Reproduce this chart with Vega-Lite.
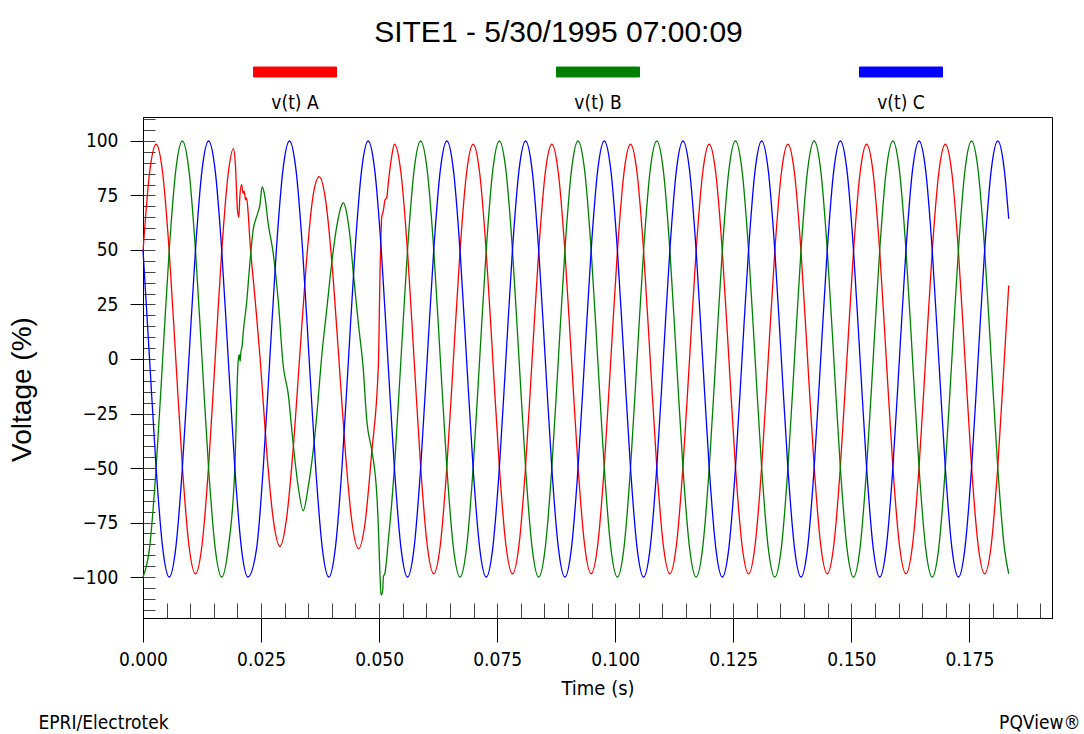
{
"$schema": "https://vega.github.io/schema/vega-lite/v6.json",
"width": 909, "height": 501,
"autosize": {"type": "none"},
"padding": {"left": 143, "top": 117, "right": 32, "bottom": 116},
"background": "white",
"title": {"text": "SITE1 - 5/30/1995 07:00:09", "font": "Liberation Sans", "fontSize": 30, "fontWeight": "normal", "color": "#000", "anchor": "middle", "frame": "group", "dx": -39, "offset": -18},
"data": {"values": [
{"t":0,"phase":"A","v":49.3},{"t":0.001389,"phase":"A","v":85.3},{"t":0.002778,"phase":"A","v":98.5},{"t":0.004167,"phase":"A","v":85.3},{"t":0.005556,"phase":"A","v":49.3},{"t":0.006944,"phase":"A","v":0},{"t":0.008333,"phase":"A","v":-49.3},{"t":0.009722,"phase":"A","v":-85.3},{"t":0.011111,"phase":"A","v":-98.5},{"t":0.0125,"phase":"A","v":-85.3},{"t":0.013889,"phase":"A","v":-49.3},{"t":0.015278,"phase":"A","v":0},{"t":0.016667,"phase":"A","v":49.3},{"t":0.018056,"phase":"A","v":85.3},
{"t":0.01915,"phase":"A","v":96.5},{"t":0.01955,"phase":"A","v":89.8},{"t":0.02002,"phase":"A","v":68},{"t":0.0203,"phase":"A","v":65},{"t":0.02051,"phase":"A","v":74.5},{"t":0.02087,"phase":"A","v":80},{"t":0.02121,"phase":"A","v":76},{"t":0.02142,"phase":"A","v":77},{"t":0.02172,"phase":"A","v":73},{"t":0.02193,"phase":"A","v":74},{"t":0.02227,"phase":"A","v":67},{"t":0.02263,"phase":"A","v":54.6},{"t":0.02369,"phase":"A","v":28.6},{"t":0.024815,"phase":"A","v":0},{"t":0.026204,"phase":"A","v":-42.5},{"t":0.027593,"phase":"A","v":-73.6},{"t":0.028981,"phase":"A","v":-86},{"t":0.03037,"phase":"A","v":-73.6},{"t":0.031759,"phase":"A","v":-42.5},{"t":0.033148,"phase":"A","v":0},{"t":0.034537,"phase":"A","v":42.5},{"t":0.035926,"phase":"A","v":73.6},{"t":0.037315,"phase":"A","v":83.6},{"t":0.038704,"phase":"A","v":72.4},{"t":0.040093,"phase":"A","v":41.8},{"t":0.041481,"phase":"A","v":0},{"t":0.04287,"phase":"A","v":-43},{"t":0.044259,"phase":"A","v":-75},{"t":0.045648,"phase":"A","v":-87},{"t":0.047037,"phase":"A","v":-75},{"t":0.048426,"phase":"A","v":-43},{"t":0.04984,"phase":"A","v":-3},{"t":0.0502,"phase":"A","v":40},{"t":0.05056,"phase":"A","v":65},{"t":0.0509,"phase":"A","v":68},{"t":0.05126,"phase":"A","v":73},{"t":0.05162,"phase":"A","v":74},{"t":0.05196,"phase":"A","v":81},{"t":0.05268,"phase":"A","v":93},
{"t":0.053241,"phase":"A","v":98.5},{"t":0.05463,"phase":"A","v":85.3},{"t":0.056019,"phase":"A","v":49.3},{"t":0.057407,"phase":"A","v":0},{"t":0.058796,"phase":"A","v":-49.3},{"t":0.060185,"phase":"A","v":-85.3},{"t":0.061574,"phase":"A","v":-98.5},{"t":0.062963,"phase":"A","v":-85.3},{"t":0.064352,"phase":"A","v":-49.3},{"t":0.065741,"phase":"A","v":0},{"t":0.06713,"phase":"A","v":49.3},{"t":0.068519,"phase":"A","v":85.3},
{"t":0.069907,"phase":"A","v":98.5},{"t":0.071296,"phase":"A","v":85.3},{"t":0.072685,"phase":"A","v":49.3},{"t":0.074074,"phase":"A","v":0},{"t":0.075463,"phase":"A","v":-49.3},{"t":0.076852,"phase":"A","v":-85.3},{"t":0.078241,"phase":"A","v":-98.5},{"t":0.07963,"phase":"A","v":-85.3},{"t":0.081019,"phase":"A","v":-49.3},{"t":0.082407,"phase":"A","v":0},{"t":0.083796,"phase":"A","v":49.3},{"t":0.085185,"phase":"A","v":85.3},
{"t":0.086574,"phase":"A","v":98.5},{"t":0.087963,"phase":"A","v":85.3},{"t":0.089352,"phase":"A","v":49.3},{"t":0.090741,"phase":"A","v":0},{"t":0.09213,"phase":"A","v":-49.3},{"t":0.093519,"phase":"A","v":-85.3},{"t":0.094907,"phase":"A","v":-98.5},{"t":0.096296,"phase":"A","v":-85.3},{"t":0.097685,"phase":"A","v":-49.3},{"t":0.099074,"phase":"A","v":0},{"t":0.100463,"phase":"A","v":49.3},{"t":0.101852,"phase":"A","v":85.3},
{"t":0.103241,"phase":"A","v":98.5},{"t":0.10463,"phase":"A","v":85.3},{"t":0.106019,"phase":"A","v":49.3},{"t":0.107407,"phase":"A","v":0},{"t":0.108796,"phase":"A","v":-49.3},{"t":0.110185,"phase":"A","v":-85.3},{"t":0.111574,"phase":"A","v":-98.5},{"t":0.112963,"phase":"A","v":-85.3},{"t":0.114352,"phase":"A","v":-49.3},{"t":0.115741,"phase":"A","v":0},{"t":0.11713,"phase":"A","v":49.3},{"t":0.118519,"phase":"A","v":85.3},
{"t":0.119907,"phase":"A","v":98.5},{"t":0.121296,"phase":"A","v":85.3},{"t":0.122685,"phase":"A","v":49.3},{"t":0.124074,"phase":"A","v":0},{"t":0.125463,"phase":"A","v":-49.3},{"t":0.126852,"phase":"A","v":-85.3},{"t":0.128241,"phase":"A","v":-98.5},{"t":0.12963,"phase":"A","v":-85.3},{"t":0.131019,"phase":"A","v":-49.3},{"t":0.132407,"phase":"A","v":0},{"t":0.133796,"phase":"A","v":49.3},{"t":0.135185,"phase":"A","v":85.3},
{"t":0.136574,"phase":"A","v":98.5},{"t":0.137963,"phase":"A","v":85.3},{"t":0.139352,"phase":"A","v":49.3},{"t":0.140741,"phase":"A","v":0},{"t":0.14213,"phase":"A","v":-49.3},{"t":0.143519,"phase":"A","v":-85.3},{"t":0.144907,"phase":"A","v":-98.5},{"t":0.146296,"phase":"A","v":-85.3},{"t":0.147685,"phase":"A","v":-49.3},{"t":0.149074,"phase":"A","v":0},{"t":0.150463,"phase":"A","v":49.3},{"t":0.151852,"phase":"A","v":85.3},
{"t":0.153241,"phase":"A","v":98.5},{"t":0.15463,"phase":"A","v":85.3},{"t":0.156019,"phase":"A","v":49.3},{"t":0.157407,"phase":"A","v":0},{"t":0.158796,"phase":"A","v":-49.3},{"t":0.160185,"phase":"A","v":-85.3},{"t":0.161574,"phase":"A","v":-98.5},{"t":0.162963,"phase":"A","v":-85.3},{"t":0.164352,"phase":"A","v":-49.3},{"t":0.165741,"phase":"A","v":0},{"t":0.16713,"phase":"A","v":49.3},{"t":0.168519,"phase":"A","v":85.3},
{"t":0.169907,"phase":"A","v":98.5},{"t":0.171296,"phase":"A","v":85.3},{"t":0.172685,"phase":"A","v":49.3},{"t":0.174074,"phase":"A","v":0},{"t":0.175463,"phase":"A","v":-49.3},{"t":0.176852,"phase":"A","v":-85.3},{"t":0.178241,"phase":"A","v":-98.5},{"t":0.17963,"phase":"A","v":-85.3},{"t":0.181019,"phase":"A","v":-49.3},{"t":0.182407,"phase":"A","v":0},{"t":0.183333,"phase":"A","v":33.7},

{"t":0,"phase":"B","v":-100},{"t":0.001389,"phase":"B","v":-86.6},{"t":0.002778,"phase":"B","v":-50},{"t":0.004167,"phase":"B","v":0},{"t":0.005556,"phase":"B","v":50},{"t":0.006944,"phase":"B","v":86.6},{"t":0.008333,"phase":"B","v":100},{"t":0.009722,"phase":"B","v":86.6},{"t":0.011111,"phase":"B","v":50},{"t":0.0125,"phase":"B","v":0},{"t":0.013889,"phase":"B","v":-50},{"t":0.015278,"phase":"B","v":-86.6},{"t":0.016667,"phase":"B","v":-100},{"t":0.018056,"phase":"B","v":-86.6},{"t":0.019444,"phase":"B","v":-50},
{"t":0.02015,"phase":"B","v":-1},{"t":0.02036,"phase":"B","v":2},{"t":0.02057,"phase":"B","v":-1},{"t":0.02072,"phase":"B","v":3},{"t":0.021,"phase":"B","v":6},{"t":0.02121,"phase":"B","v":11.8},{"t":0.02193,"phase":"B","v":25.5},{"t":0.02263,"phase":"B","v":43.9},{"t":0.02333,"phase":"B","v":59.2},{"t":0.02405,"phase":"B","v":65.3},{"t":0.02475,"phase":"B","v":70.6},{"t":0.02524,"phase":"B","v":79},{"t":0.02581,"phase":"B","v":74.5},{"t":0.02651,"phase":"B","v":62.2},{"t":0.02757,"phase":"B","v":48.5},{"t":0.02863,"phase":"B","v":27},{"t":0.02969,"phase":"B","v":-3},{"t":0.03075,"phase":"B","v":-16},{"t":0.03181,"phase":"B","v":-39},{"t":0.03287,"phase":"B","v":-58.6},{"t":0.03393,"phase":"B","v":-69.6},{"t":0.03499,"phase":"B","v":-58.6},{"t":0.03606,"phase":"B","v":-41.7},{"t":0.03684,"phase":"B","v":-25},{"t":0.03779,"phase":"B","v":0},{"t":0.0389,"phase":"B","v":22.5},{"t":0.03996,"phase":"B","v":43.9},{"t":0.04102,"phase":"B","v":60.7},{"t":0.04208,"phase":"B","v":70.6},{"t":0.04242,"phase":"B","v":71.7},{"t":0.04314,"phase":"B","v":66.8},{"t":0.04384,"phase":"B","v":56.1},{"t":0.04454,"phase":"B","v":39.3},{"t":0.0456,"phase":"B","v":16.4},{"t":0.04666,"phase":"B","v":-5},{"t":0.04738,"phase":"B","v":-28},{"t":0.04844,"phase":"B","v":-41.7},{"t":0.04914,"phase":"B","v":-52.4},{"t":0.0495,"phase":"B","v":-61.6},{"t":0.04984,"phase":"B","v":-77},{"t":0.0502,"phase":"B","v":-100},{"t":0.05041,"phase":"B","v":-108.3},{"t":0.05077,"phase":"B","v":-106},{"t":0.0509,"phase":"B","v":-100},{"t":0.05126,"phase":"B","v":-98},{"t":0.05196,"phase":"B","v":-83},{"t":0.05268,"phase":"B","v":-66},
{"t":0.053241,"phase":"B","v":-50},{"t":0.05463,"phase":"B","v":0},{"t":0.056019,"phase":"B","v":50},{"t":0.057407,"phase":"B","v":86.6},{"t":0.058796,"phase":"B","v":100},{"t":0.060185,"phase":"B","v":86.6},{"t":0.061574,"phase":"B","v":50},{"t":0.062963,"phase":"B","v":0},{"t":0.064352,"phase":"B","v":-50},{"t":0.065741,"phase":"B","v":-86.6},{"t":0.06713,"phase":"B","v":-100},{"t":0.068519,"phase":"B","v":-86.6},
{"t":0.069907,"phase":"B","v":-50},{"t":0.071296,"phase":"B","v":0},{"t":0.072685,"phase":"B","v":50},{"t":0.074074,"phase":"B","v":86.6},{"t":0.075463,"phase":"B","v":100},{"t":0.076852,"phase":"B","v":86.6},{"t":0.078241,"phase":"B","v":50},{"t":0.07963,"phase":"B","v":0},{"t":0.081019,"phase":"B","v":-50},{"t":0.082407,"phase":"B","v":-86.6},{"t":0.083796,"phase":"B","v":-100},{"t":0.085185,"phase":"B","v":-86.6},
{"t":0.086574,"phase":"B","v":-50},{"t":0.087963,"phase":"B","v":0},{"t":0.089352,"phase":"B","v":50},{"t":0.090741,"phase":"B","v":86.6},{"t":0.09213,"phase":"B","v":100},{"t":0.093519,"phase":"B","v":86.6},{"t":0.094907,"phase":"B","v":50},{"t":0.096296,"phase":"B","v":0},{"t":0.097685,"phase":"B","v":-50},{"t":0.099074,"phase":"B","v":-86.6},{"t":0.100463,"phase":"B","v":-100},{"t":0.101852,"phase":"B","v":-86.6},
{"t":0.103241,"phase":"B","v":-50},{"t":0.10463,"phase":"B","v":0},{"t":0.106019,"phase":"B","v":50},{"t":0.107407,"phase":"B","v":86.6},{"t":0.108796,"phase":"B","v":100},{"t":0.110185,"phase":"B","v":86.6},{"t":0.111574,"phase":"B","v":50},{"t":0.112963,"phase":"B","v":0},{"t":0.114352,"phase":"B","v":-50},{"t":0.115741,"phase":"B","v":-86.6},{"t":0.11713,"phase":"B","v":-100},{"t":0.118519,"phase":"B","v":-86.6},
{"t":0.119907,"phase":"B","v":-50},{"t":0.121296,"phase":"B","v":0},{"t":0.122685,"phase":"B","v":50},{"t":0.124074,"phase":"B","v":86.6},{"t":0.125463,"phase":"B","v":100},{"t":0.126852,"phase":"B","v":86.6},{"t":0.128241,"phase":"B","v":50},{"t":0.12963,"phase":"B","v":0},{"t":0.131019,"phase":"B","v":-50},{"t":0.132407,"phase":"B","v":-86.6},{"t":0.133796,"phase":"B","v":-100},{"t":0.135185,"phase":"B","v":-86.6},
{"t":0.136574,"phase":"B","v":-50},{"t":0.137963,"phase":"B","v":0},{"t":0.139352,"phase":"B","v":50},{"t":0.140741,"phase":"B","v":86.6},{"t":0.14213,"phase":"B","v":100},{"t":0.143519,"phase":"B","v":86.6},{"t":0.144907,"phase":"B","v":50},{"t":0.146296,"phase":"B","v":0},{"t":0.147685,"phase":"B","v":-50},{"t":0.149074,"phase":"B","v":-86.6},{"t":0.150463,"phase":"B","v":-100},{"t":0.151852,"phase":"B","v":-86.6},
{"t":0.153241,"phase":"B","v":-50},{"t":0.15463,"phase":"B","v":0},{"t":0.156019,"phase":"B","v":50},{"t":0.157407,"phase":"B","v":86.6},{"t":0.158796,"phase":"B","v":100},{"t":0.160185,"phase":"B","v":86.6},{"t":0.161574,"phase":"B","v":50},{"t":0.162963,"phase":"B","v":0},{"t":0.164352,"phase":"B","v":-50},{"t":0.165741,"phase":"B","v":-86.6},{"t":0.16713,"phase":"B","v":-100},{"t":0.168519,"phase":"B","v":-86.6},
{"t":0.169907,"phase":"B","v":-50},{"t":0.171296,"phase":"B","v":0},{"t":0.172685,"phase":"B","v":50},{"t":0.174074,"phase":"B","v":86.6},{"t":0.175463,"phase":"B","v":100},{"t":0.176852,"phase":"B","v":86.6},{"t":0.178241,"phase":"B","v":50},{"t":0.17963,"phase":"B","v":0},{"t":0.181019,"phase":"B","v":-50},{"t":0.182407,"phase":"B","v":-86.6},{"t":0.183333,"phase":"B","v":-98.5},

{"t":0,"phase":"C","v":50},{"t":0.001389,"phase":"C","v":0},{"t":0.002778,"phase":"C","v":-50},{"t":0.004167,"phase":"C","v":-86.6},{"t":0.005556,"phase":"C","v":-100},{"t":0.006944,"phase":"C","v":-86.6},{"t":0.008333,"phase":"C","v":-50},{"t":0.009722,"phase":"C","v":0},{"t":0.011111,"phase":"C","v":50},{"t":0.0125,"phase":"C","v":86.6},{"t":0.013889,"phase":"C","v":100},{"t":0.015278,"phase":"C","v":86.6},{"t":0.016667,"phase":"C","v":50},{"t":0.018056,"phase":"C","v":0},{"t":0.019444,"phase":"C","v":-50},{"t":0.020833,"phase":"C","v":-86.6},{"t":0.022222,"phase":"C","v":-100},
{"t":0.024074,"phase":"C","v":-86.6},{"t":0.025463,"phase":"C","v":-50},{"t":0.026852,"phase":"C","v":0},{"t":0.028241,"phase":"C","v":50},{"t":0.02963,"phase":"C","v":86.6},{"t":0.031019,"phase":"C","v":100},{"t":0.032407,"phase":"C","v":86.6},
{"t":0.033796,"phase":"C","v":50},{"t":0.035185,"phase":"C","v":0},{"t":0.036574,"phase":"C","v":-50},{"t":0.037963,"phase":"C","v":-86.6},{"t":0.039352,"phase":"C","v":-100},{"t":0.040741,"phase":"C","v":-86.6},{"t":0.04213,"phase":"C","v":-50},{"t":0.043519,"phase":"C","v":0},{"t":0.044907,"phase":"C","v":50},{"t":0.046296,"phase":"C","v":86.6},{"t":0.047685,"phase":"C","v":100},{"t":0.049074,"phase":"C","v":86.6},
{"t":0.050463,"phase":"C","v":50},{"t":0.051852,"phase":"C","v":0},{"t":0.053241,"phase":"C","v":-50},{"t":0.05463,"phase":"C","v":-86.6},{"t":0.056019,"phase":"C","v":-100},{"t":0.057407,"phase":"C","v":-86.6},{"t":0.058796,"phase":"C","v":-50},{"t":0.060185,"phase":"C","v":0},{"t":0.061574,"phase":"C","v":50},{"t":0.062963,"phase":"C","v":86.6},{"t":0.064352,"phase":"C","v":100},{"t":0.065741,"phase":"C","v":86.6},
{"t":0.06713,"phase":"C","v":50},{"t":0.068519,"phase":"C","v":0},{"t":0.069907,"phase":"C","v":-50},{"t":0.071296,"phase":"C","v":-86.6},{"t":0.072685,"phase":"C","v":-100},{"t":0.074074,"phase":"C","v":-86.6},{"t":0.075463,"phase":"C","v":-50},{"t":0.076852,"phase":"C","v":0},{"t":0.078241,"phase":"C","v":50},{"t":0.07963,"phase":"C","v":86.6},{"t":0.081019,"phase":"C","v":100},{"t":0.082407,"phase":"C","v":86.6},
{"t":0.083796,"phase":"C","v":50},{"t":0.085185,"phase":"C","v":0},{"t":0.086574,"phase":"C","v":-50},{"t":0.087963,"phase":"C","v":-86.6},{"t":0.089352,"phase":"C","v":-100},{"t":0.090741,"phase":"C","v":-86.6},{"t":0.09213,"phase":"C","v":-50},{"t":0.093519,"phase":"C","v":0},{"t":0.094907,"phase":"C","v":50},{"t":0.096296,"phase":"C","v":86.6},{"t":0.097685,"phase":"C","v":100},{"t":0.099074,"phase":"C","v":86.6},
{"t":0.100463,"phase":"C","v":50},{"t":0.101852,"phase":"C","v":0},{"t":0.103241,"phase":"C","v":-50},{"t":0.10463,"phase":"C","v":-86.6},{"t":0.106019,"phase":"C","v":-100},{"t":0.107407,"phase":"C","v":-86.6},{"t":0.108796,"phase":"C","v":-50},{"t":0.110185,"phase":"C","v":0},{"t":0.111574,"phase":"C","v":50},{"t":0.112963,"phase":"C","v":86.6},{"t":0.114352,"phase":"C","v":100},{"t":0.115741,"phase":"C","v":86.6},
{"t":0.11713,"phase":"C","v":50},{"t":0.118519,"phase":"C","v":0},{"t":0.119907,"phase":"C","v":-50},{"t":0.121296,"phase":"C","v":-86.6},{"t":0.122685,"phase":"C","v":-100},{"t":0.124074,"phase":"C","v":-86.6},{"t":0.125463,"phase":"C","v":-50},{"t":0.126852,"phase":"C","v":0},{"t":0.128241,"phase":"C","v":50},{"t":0.12963,"phase":"C","v":86.6},{"t":0.131019,"phase":"C","v":100},{"t":0.132407,"phase":"C","v":86.6},
{"t":0.133796,"phase":"C","v":50},{"t":0.135185,"phase":"C","v":0},{"t":0.136574,"phase":"C","v":-50},{"t":0.137963,"phase":"C","v":-86.6},{"t":0.139352,"phase":"C","v":-100},{"t":0.140741,"phase":"C","v":-86.6},{"t":0.14213,"phase":"C","v":-50},{"t":0.143519,"phase":"C","v":0},{"t":0.144907,"phase":"C","v":50},{"t":0.146296,"phase":"C","v":86.6},{"t":0.147685,"phase":"C","v":100},{"t":0.149074,"phase":"C","v":86.6},
{"t":0.150463,"phase":"C","v":50},{"t":0.151852,"phase":"C","v":0},{"t":0.153241,"phase":"C","v":-50},{"t":0.15463,"phase":"C","v":-86.6},{"t":0.156019,"phase":"C","v":-100},{"t":0.157407,"phase":"C","v":-86.6},{"t":0.158796,"phase":"C","v":-50},{"t":0.160185,"phase":"C","v":0},{"t":0.161574,"phase":"C","v":50},{"t":0.162963,"phase":"C","v":86.6},{"t":0.164352,"phase":"C","v":100},{"t":0.165741,"phase":"C","v":86.6},
{"t":0.16713,"phase":"C","v":50},{"t":0.168519,"phase":"C","v":0},{"t":0.169907,"phase":"C","v":-50},{"t":0.171296,"phase":"C","v":-86.6},{"t":0.172685,"phase":"C","v":-100},{"t":0.174074,"phase":"C","v":-86.6},{"t":0.175463,"phase":"C","v":-50},{"t":0.176852,"phase":"C","v":0},{"t":0.178241,"phase":"C","v":50},{"t":0.17963,"phase":"C","v":86.6},{"t":0.181019,"phase":"C","v":100},{"t":0.182407,"phase":"C","v":86.6},{"t":0.183333,"phase":"C","v":64.3}
]},
"encoding": {
  "color": {"field": "phase", "type": "nominal",
    "scale": {"domain": ["A", "B", "C"], "range": ["#ff0000", "#008000", "#0000ff"]},
    "legend": {"orient": "none", "legendX": 110, "legendY": -87, "direction": "horizontal", "title": null, "padding": 0,
      "columnPadding": 215, "symbolType": "M-1,-0.12H1V0.12H-1Z", "symbolSize": 6889, "symbolStrokeWidth": 1, "symbolStrokeColor": "#444",
      "labelOffset": -42, "labelAlign": "center", "labelFont": "DejaVu Sans Condensed, Liberation Sans, sans-serif", "labelFontSize": 19, "labelColor": "#000",
      "labelExpr": "'v(t) ' + datum.label",
      "encode": {"symbols": {"update": {"fill": {"scale": "color", "field": "value"}, "fillOpacity": {"value": 1}, "stroke": {"value": "#444"}, "strokeWidth": {"value": 1}, "opacity": {"value": 1}}},
                 "labels": {"update": {"dy": {"value": 31}}}}}
  }
},
"layer": [
  {"transform": [{"filter": "datum.phase == 'A'"}],
   "mark": {"type": "line", "interpolate": "monotone", "strokeWidth": 1.3},
   "encoding": {
     "x": {"field": "t", "type": "quantitative", "scale": {"domain": [0, 0.1925], "nice": false, "zero": false},
       "axis": {"orient": "bottom", "values": [0, 0.025, 0.05, 0.075, 0.1, 0.125, 0.15, 0.175], "format": ".3f", "tickSize": 24, "labelPadding": 8, "labelFlush": false, "labelOverlap": false, "title": "Time (s)", "titlePadding": 9}},
     "y": {"field": "v", "type": "quantitative", "scale": {"domain": [-118.8, 111], "nice": false, "zero": false},
       "axis": {"orient": "left", "values": [-100, -75, -50, -25, 0, 25, 50, 75, 100], "format": "d", "tickSize": 13, "labelPadding": 12, "labelFlush": false, "labelOverlap": false, "title": "Voltage (%)", "titleFont": "Liberation Sans", "titleFontSize": 28, "titlePadding": 35, "titleY": 272}}
   }},
  {"transform": [{"filter": "datum.phase == 'B'"}],
   "mark": {"type": "line", "interpolate": "monotone", "strokeWidth": 1.3},
   "encoding": {
     "x": {"field": "t", "type": "quantitative", "scale": {"domain": [0, 0.1925], "nice": false, "zero": false},
       "axis": {"orient": "bottom", "values": [0.005, 0.01, 0.015, 0.02, 0.025, 0.03, 0.035, 0.04, 0.045, 0.05, 0.055, 0.06, 0.065, 0.07, 0.075, 0.08, 0.085, 0.09, 0.095, 0.1, 0.105, 0.11, 0.115, 0.12, 0.125, 0.13, 0.135, 0.14, 0.145, 0.15, 0.155, 0.16, 0.165, 0.17, 0.175, 0.18, 0.185, 0.19], "tickSize": -15, "labels": false, "domain": false, "title": null, "tickColor": "#444"}},
     "y": {"field": "v", "type": "quantitative", "scale": {"domain": [-118.8, 111], "nice": false, "zero": false},
       "axis": {"orient": "left", "values": [-115, -110, -105, -100, -95, -90, -85, -80, -75, -70, -65, -60, -55, -50, -45, -40, -35, -30, -25, -20, -15, -10, -5, 0, 5, 10, 15, 20, 25, 30, 35, 40, 45, 50, 55, 60, 65, 70, 75, 80, 85, 90, 95, 100, 105, 110], "tickSize": -12, "labels": false, "domain": false, "title": null, "tickColor": "#444"}}
   }},
  {"transform": [{"filter": "datum.phase == 'C'"}],
   "mark": {"type": "line", "interpolate": "monotone", "strokeWidth": 1.3},
   "encoding": {
     "x": {"field": "t", "type": "quantitative", "scale": {"domain": [0, 0.1925], "nice": false, "zero": false},
       "axis": {"orient": "bottom", "labels": false, "ticks": false, "domain": false, "title": "EPRI/Electrotek", "titleX": -105, "titleY": 110, "titleAlign": "left", "titleBaseline": "alphabetic", "titleFontSize": 19}},
     "y": {"field": "v", "type": "quantitative", "scale": {"domain": [-118.8, 111], "nice": false, "zero": false},
       "axis": {"orient": "right", "labels": false, "ticks": false, "domain": false, "title": "PQView®", "titleAngle": 0, "titleX": 28, "titleY": 611, "titleAlign": "right", "titleBaseline": "alphabetic", "titleFontSize": 19}}
   }}
],
"resolve": {"axis": {"x": "independent", "y": "independent"}},
"config": {
  "font": "DejaVu Sans Condensed, Liberation Sans, sans-serif",
  "view": {"stroke": "#000", "strokeWidth": 1},
  "axis": {"grid": false, "domainColor": "#000", "tickColor": "#000", "labelColor": "#000", "titleColor": "#000", "labelFont": "DejaVu Sans Condensed, Liberation Sans, sans-serif", "labelFontSize": 19, "titleFont": "DejaVu Sans Condensed, Liberation Sans, sans-serif", "titleFontSize": 20, "titleFontWeight": "normal", "domainWidth": 1, "tickWidth": 1}
}
}
